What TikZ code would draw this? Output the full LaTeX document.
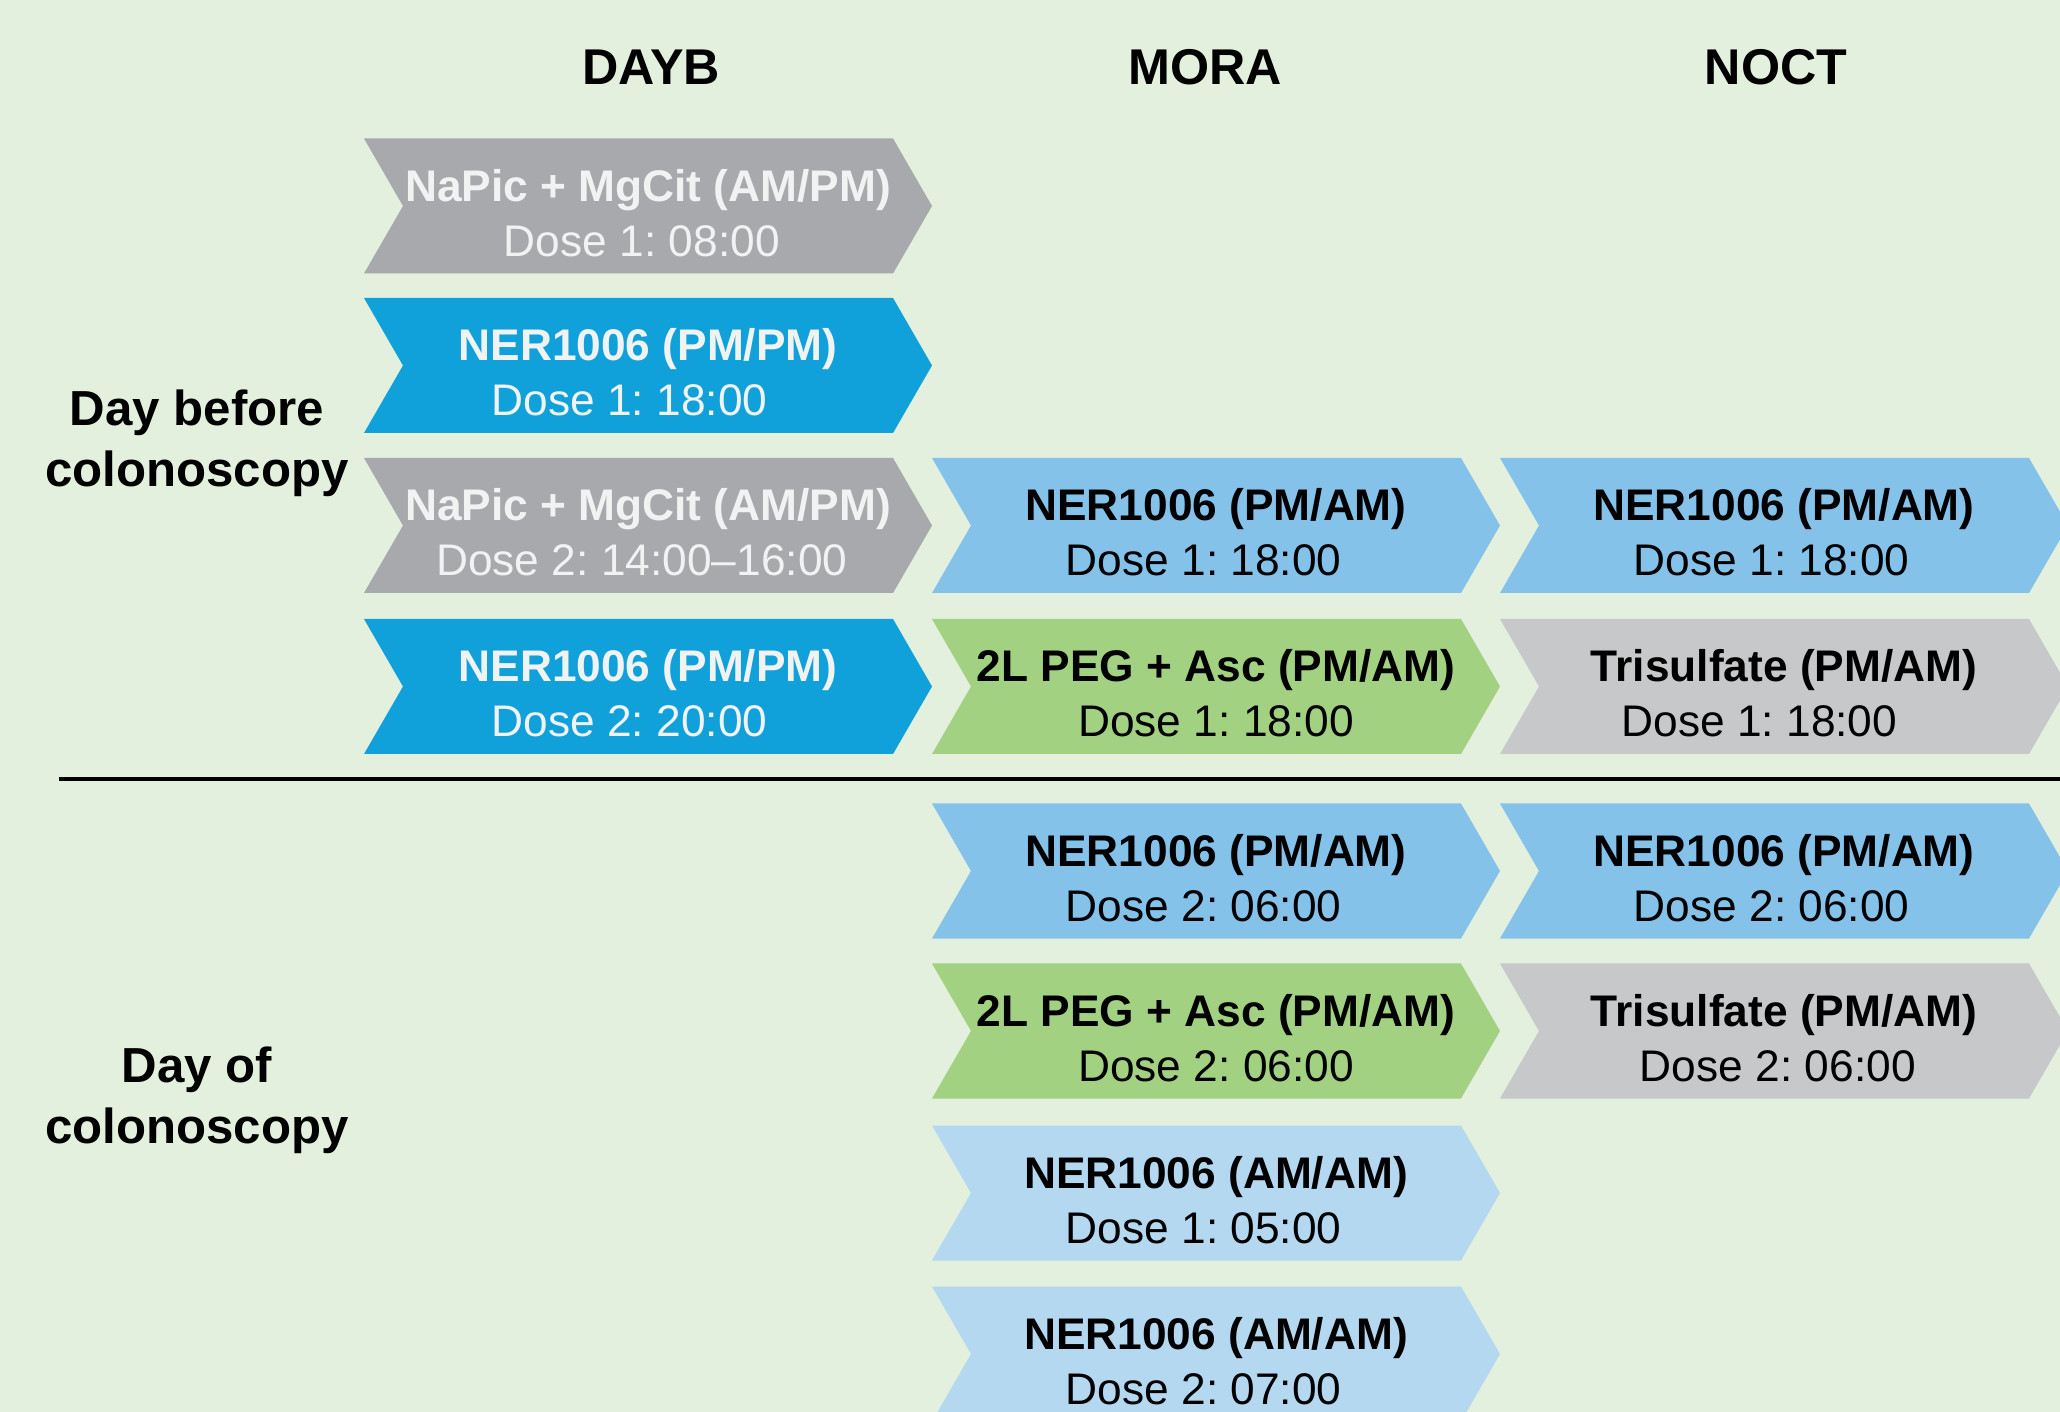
\documentclass[tikz,border=0pt]{standalone}
\usepackage{fontspec}
\setmainfont{Liberation Sans}
\usetikzlibrary{shapes.symbols}
\definecolor{bg}{RGB}{227,240,221}
\definecolor{napic}{RGB}{167,169,172}
\definecolor{nerdark}{RGB}{16,161,219}
\definecolor{nermid}{RGB}{132,194,234}
\definecolor{nerlight}{RGB}{179,216,240}
\definecolor{peg}{RGB}{163,209,130}
\definecolor{tris}{RGB}{199,200,202}
\definecolor{offwhite}{RGB}{241,242,242}
% trailing blanks after a dose line
\newcommand\padr[1]{\hspace*{#1\fontdimen2\font}}
\begin{document}
\frenchspacing
\begin{tikzpicture}[
  chev/.style={signal, signal from=west, signal to=east, signal pointer angle=120,
    minimum width=5.68cm, minimum height=1.35cm, inner sep=0pt, align=center,
    font=\fontsize{12.6}{15.65}\selectfont, text height=28.5pt, text depth=0pt},
  napicbox/.style={chev, fill=napic, text=offwhite},
  pmpmbox/.style={chev, fill=nerdark, text=offwhite},
  pmambox/.style={chev, fill=nermid},
  pegbox/.style={chev, fill=peg},
  trisbox/.style={chev, fill=tris},
  amambox/.style={chev, fill=nerlight},
  head/.style={font=\fontsize{14.3}{17}\selectfont\bfseries},
  day/.style={align=center, font=\fontsize{14}{17.4}\selectfont\bfseries}
]
\path[use as bounding box, fill=bg] (0,0) rectangle (20.6,-14.12);

% column heads
\node[head] (hdayb) at (6.51,-0.67) {DAYB};
\node[head] (hmora) at (12.05,-0.67) {MORA};
\node[head] (hnoct) at (17.76,-0.67) {NOCT};

% row labels
\node[day] (before) at (1.97,-4.435) {Day before\\colonoscopy};
\node[day] (dayof) at (1.97,-11.0) {Day of\\colonoscopy};

% day before
\node[napicbox] (dayb1) at (6.48,-2.06) {\bfseries NaPic + MgCit (AM/PM)\\Dose 1: 08:00\padr{1}};
\node[pmpmbox] (dayb2) at (6.48,-3.655) {\bfseries NER1006 (PM/PM)\\Dose 1: 18:00\padr{3}};
\node[napicbox] (dayb3) at (6.48,-5.255) {\bfseries NaPic + MgCit (AM/PM)\\Dose 2: 14:00--16:00\padr{1}};
\node[pmpmbox] (dayb4) at (6.48,-6.865) {\bfseries NER1006 (PM/PM)\\Dose 2: 20:00\padr{3}};

\node[pmambox] (mora1) at (12.16,-5.255) {\bfseries NER1006 (PM/AM)\\Dose 1: 18:00\padr{2}};
\node[pegbox] (mora2) at (12.16,-6.865) {\bfseries 2L PEG + Asc (PM/AM)\\Dose 1: 18:00};

\node[pmambox] (noct1) at (17.84,-5.255) {\bfseries NER1006 (PM/AM)\\Dose 1: 18:00\padr{2}};
\node[trisbox] (noct2) at (17.84,-6.865) {\bfseries Trisulfate (PM/AM)\\Dose 1: 18:00\padr{4}};

% split line
\coordinate (sepl) at (0.59,-7.79);
\coordinate (sepr) at (20.6,-7.79);
\draw[line width=0.04cm] (sepl) -- (sepr);

% day of
\node[pmambox] (mora3) at (12.16,-8.71) {\bfseries NER1006 (PM/AM)\\Dose 2: 06:00\padr{2}};
\node[pegbox] (mora4) at (12.16,-10.31) {\bfseries 2L PEG + Asc (PM/AM)\\Dose 2: 06:00};
\node[amambox] (mora5) at (12.16,-11.93) {\bfseries NER1006 (AM/AM)\\Dose 1: 05:00\padr{2}};
\node[amambox] (mora6) at (12.16,-13.54) {\bfseries NER1006 (AM/AM)\\Dose 2: 07:00\padr{2}};

\node[pmambox] (noct3) at (17.84,-8.71) {\bfseries NER1006 (PM/AM)\\Dose 2: 06:00\padr{2}};
\node[trisbox] (noct4) at (17.84,-10.31) {\bfseries Trisulfate (PM/AM)\\Dose 2: 06:00\padr{1}};
\end{tikzpicture}
\end{document}
